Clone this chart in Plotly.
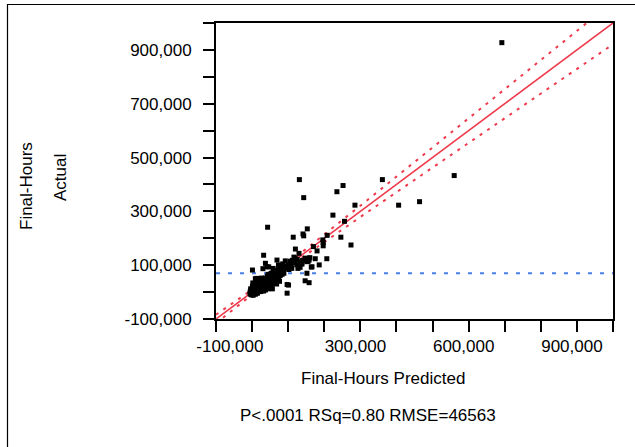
import plotly.graph_objects as go

# ---- data (values in thousands of hours) ----
pred_core = [-6,-5,-4,-3,-2,-1,0,0,1,2,3,4,5,5,6,7,8,8,9,10,11,11,12,13,14,14,15,16,17,18,19,20,20,21,22,23,24,24,25,26,27,28,29,29,30,31,32,33,34,34,35,36,37,37,38,39,40,41,42,43,44,44,45,46,47,48,49,50,51,52,53,54,55,56,57,58,59,60,61,62,63,64,65,66,67,68,69,70,71,72,73,74,75,76,77,78,79,80,82,83,85,86,88,
             -4,-2,1,3,6,9,12,15,18,21,24,27,30,33,36,39,42,45,48,51,54,57,60,63,66,2,10,26,44,58]
act_core = [-4,2,-8,6,-2,10,-6,3,14,-3,7,0,16,-6,9,3,20,-2,12,5,24,-4,15,8,28,0,18,10,4,22,13,32,6,17,26,10,36,2,20,14,30,8,40,22,16,34,4,26,44,12,20,30,50,8,24,38,16,46,28,12,56,34,22,40,62,30,16,48,36,68,24,54,42,12,60,32,72,48,38,64,54,80,44,70,58,30,76,62,50,86,68,56,82,40,72,62,90,76,84,66,92,78,70,
            12,-10,22,-12,26,-8,30,-4,36,2,42,6,48,14,52,20,58,24,64,28,70,34,74,40,78,34,44,52,66,88]

pred_outer = [131,143,252,235,361,285,224,256,406,464,560,692,43,153,141,143,114,208,246,196,197,197,170,180,274,120,130,32,175,207,92,37,164,186,124,133,152,147,158,97,9,30,41,55,
              105,112,118,125,132,140,148,155,160,100,108,116,138,90,95,102,85,110,119,106,147,158,138,152,166,96,127,101,1,14,46,69,73,97]
act_outer = [418,351,396,373,418,323,286,263,323,336,433,927,241,235,216,209,204,211,204,194,184,172,169,153,175,160,144,137,124,124,116,107,93,101,101,92,70,42,35,28,50,87,94,14,
             110,118,108,122,112,118,126,114,128,100,96,130,104,88,96,84,105,88,125,115,125,119,109,113,94,94,88,26,82,51,94,119,101,-4]

fit_x = [-100, 1000]
fit_y = [-100, 1000]

band_x = [-100, 0, 100, 200, 300, 400, 500, 600, 700, 800, 900, 1000]
band_half = [16, 9, 7.5, 13, 21, 29, 37, 46, 54, 62, 71, 79]

mean_actual = 70

y_tickvals = [-100, 0, 100, 200, 300, 400, 500, 600, 700, 800, 900, 1000]
y_ticktext = ["-100,000", "", "100,000", "", "300,000", "", "500,000", "", "700,000", "", "900,000", ""]
x_tickvals = [-100, 0, 100, 200, 300, 400, 500, 600, 700, 800, 900, 1000]
x_ticktext = ["\u00a0" * 8 + "-100,000", "", "", "", "300,000", "", "", "600,000", "", "", "900,000", ""]

K = 1000
FONT = "Liberation Sans, Arial, sans-serif"
RED = "#EE3A4C"
BLUE = "#4A7FE6"

fig = go.Figure()

# confidence curves
fig.add_trace(go.Scatter(x=[v * K for v in band_x],
                         y=[(x + h) * K for x, h in zip(band_x, band_half)],
                         mode="lines", line=dict(color=RED, width=2, dash="3px,6px"),
                         hoverinfo="skip", showlegend=False))
fig.add_trace(go.Scatter(x=[v * K for v in band_x],
                         y=[(x - h) * K for x, h in zip(band_x, band_half)],
                         mode="lines", line=dict(color=RED, width=2, dash="3px,6px"),
                         hoverinfo="skip", showlegend=False))
# mean line
fig.add_trace(go.Scatter(x=[-100 * K, 1000 * K], y=[mean_actual * K, mean_actual * K],
                         mode="lines", line=dict(color=BLUE, width=2, dash="4px,8px"),
                         hoverinfo="skip", showlegend=False))
# fit line
fig.add_trace(go.Scatter(x=[v * K for v in fit_x], y=[v * K for v in fit_y],
                         mode="lines", line=dict(color=RED, width=1.6),
                         hoverinfo="skip", showlegend=False))
# points
fig.add_trace(go.Scatter(x=[v * K for v in pred_core + pred_outer],
                         y=[v * K for v in act_core + act_outer],
                         mode="markers",
                         marker=dict(symbol="square", size=5, color="black",
                                     line=dict(width=0)),
                         showlegend=False))

axis_common = dict(showgrid=False, zeroline=False, showline=True, mirror=True,
                   linecolor="black", linewidth=2, ticks="outside", ticklen=11,
                   tickwidth=1.5, tickcolor="black",
                   tickfont=dict(family=FONT, size=17, color="black"))

fig.update_xaxes(range=[-100 * K, 1000 * K],
                 tickvals=[v * K for v in x_tickvals], ticktext=x_ticktext,
                 ticklabelshift=-5, **axis_common)
fig.update_yaxes(range=[-100 * K, 1000 * K],
                 tickvals=[v * K for v in y_tickvals], ticktext=y_ticktext,
                 ticklabelstandoff=8, **axis_common)

annots = [
    dict(text="Final-Hours Predicted", x=383, y=378),
    dict(text="P<.0001 RSq=0.80 RMSE=46563", x=368, y=415),
]
L, R, T, B = 216, 22, 23, 128
W, H = 635, 447
pw, ph = W - L - R, H - T - B

def px(xp):
    return (xp - L) / pw

def py(yp):
    return (H - B - yp) / ph

ann_list = []
for a in annots:
    ann_list.append(dict(text=a["text"], x=px(a["x"]), y=py(a["y"]), xref="paper", yref="paper",
                         showarrow=False, xanchor="center", yanchor="middle",
                         font=dict(family=FONT, size=17, color="black")))
ann_list.append(dict(text="Final-Hours", x=px(26), y=py(186), xref="paper", yref="paper",
                     showarrow=False, textangle=-90, xanchor="center", yanchor="middle",
                     font=dict(family=FONT, size=17, color="black")))
ann_list.append(dict(text="Actual", x=px(60), y=py(178), xref="paper", yref="paper",
                     showarrow=False, textangle=-90, xanchor="center", yanchor="middle",
                     font=dict(family=FONT, size=17, color="black")))

fig.update_layout(
    width=W, height=H,
    margin=dict(l=L, r=R, t=T, b=B),
    paper_bgcolor="white", plot_bgcolor="white",
    annotations=ann_list,
    shapes=[dict(type="rect", xref="paper", yref="paper",
                 x0=px(7.5), x1=px(645), y0=py(460), y1=py(4.5),
                 line=dict(color="black", width=1.2), fillcolor="rgba(0,0,0,0)", layer="below")],
)

fig.write_html("out.html")
